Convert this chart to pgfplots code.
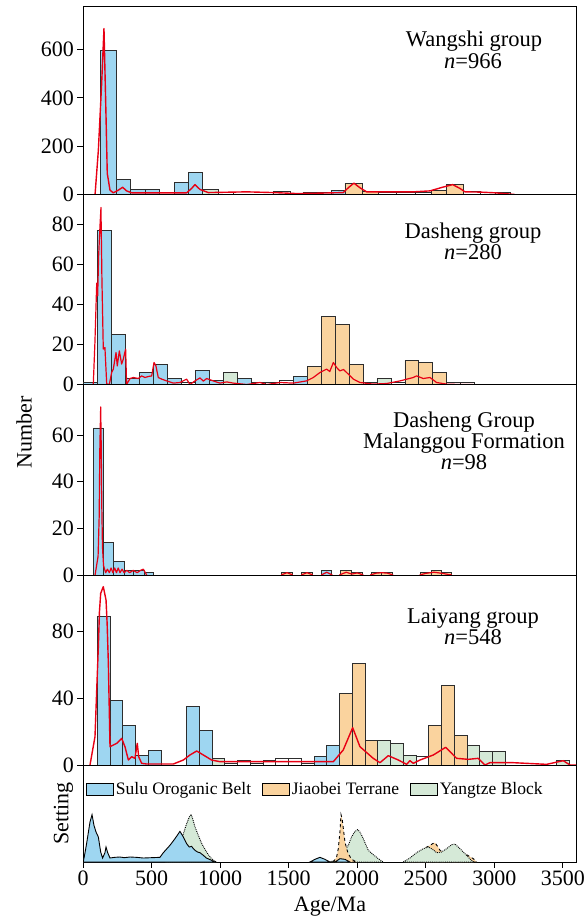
\documentclass[border=0pt]{standalone}
\usepackage{fontspec}
\setmainfont{Liberation Serif}
\usepackage{pgfplots}
\usepackage{pgfplotstable}
\pgfplotsset{compat=1.18}

\definecolor{sulu}{RGB}{158,214,241}
\definecolor{jiao}{RGB}{250,211,158}
\definecolor{yang}{RGB}{213,233,215}
\definecolor{kde}{RGB}{232,0,20}
\definecolor{bedge}{RGB}{45,45,45}

% Wangshi group (bin left edges; B=Sulu, O=Jiaobei, G=Yangtze, W=other)
\pgfplotstableread{
x B O G W
124 596 0 0 0
241 62 0 0 0
343 21 0 0 0
452 21 0 0 0
554 0 0 0 0
666 50 0 0 0
766 90 0 0 0
870 0 0 21 0
987 0 0 0 8
1097 0 0 0 0
1389 0 0 0 12
1510 0 0 0 5
1607 0 0 0 7
1704 0 0 0 10
1814 18 0 0 0
1911 0 47 0 0
2040 0 14 0 0
2154 0 0 0 8
2288 0 0 0 8
2422 0 0 0 8
2543 0 18 0 0
2653 0 43 0 0
2774 0 0 0 11
2896 0 0 0 7
3005 0 0 0 7
3115 0 0 0 0
}\tabA

% Dasheng group
\pgfplotstableread{
x B O G W
2 1 0 0 0
104 77 0 0 0
206 25 0 0 0
308 3 0 0 0
410 6 0 0 0
512 10 0 0 0
614 3 0 0 0
716 0 0 0 1
818 7 0 0 0
920 2 0 0 0
1022 0 0 6 0
1124 3 0 0 0
1226 0 0 0 1
1328 0 0 0 1
1430 0 0 0 2
1532 4 0 0 0
1634 0 9 0 0
1736 0 34 0 0
1838 0 30 0 0
1940 0 10 0 0
2042 0 0 0 1
2144 0 0 3 0
2246 0 0 0 1
2348 0 12 0 0
2450 0 11 0 0
2552 0 6 0 0
2654 0 0 0 1
2756 0 0 0 1
2858 0 0 0 0
}\tabB

% Dasheng Group, Malanggou Formation
\pgfplotstableread{
x B O G W
75 63 0 0 0
148 14 0 0 0
221 6 0 0 0
299 2 0 0 0
367 2 0 0 0
445 1 0 0 0
513 0 0 0 0
1449 0 1 0 0
1527 0 0 0 0
1595 0 1 0 0
1673 0 0 0 0
1741 2 0 0 0
1814 0 0 0 0
1880 0 2 0 0
1960 0 1 0 0
2040 0 0 0 0
2101 0 1 0 0
2179 0 1 0 0
2256 0 0 0 0
2463 0 1 0 0
2543 0 2 0 0
2616 0 1 0 0
2684 0 0 0 0
}\tabC

% Laiyang group
\pgfplotstableread{
x B O G W
104.5 89 0 0 0
197.5 39 0 0 0
290.5 24 0 0 0
383.5 6 0 0 0
476.5 9 0 0 0
569.5 0 0 0 0
662.5 0 0 0 0
755.5 35 0 0 0
848.5 21 0 0 0
941.5 0 0 4 0
1034.5 0 0 0 1
1127.5 0 0 0 3
1220.5 0 0 0 1
1313.5 0 0 0 3
1406.5 0 0 0 4
1499.5 0 0 0 4
1592.5 0 0 0 1
1685.5 5 0 0 0
1778.5 12 0 0 0
1871.5 0 43 0 0
1964.5 0 61 0 0
2057.5 0 15 0 0
2150.5 0 0 15 0
2243.5 0 0 13 0
2336.5 0 0 6 0
2429.5 0 0 0 5
2522.5 0 24 0 0
2615.5 0 48 0 0
2708.5 0 18 0 0
2801.5 0 0 12 0
2894.5 0 0 8 0
2987.5 0 0 8 0
3080.5 0 0 0 0
3173.5 0 0 0 0
3266.5 0 0 0 0
3359.5 0 0 0 0
3452.5 0 0 3 0
3545.5 0 0 0 0
}\tabD

\pgfplotsset{
  panel/.style={scale only axis, width=493pt, xmin=0, xmax=3596, ymin=0,
    axis line style={line width=1pt, black},
    tick align=outside, major tick length=5.5pt,
    tick style={line width=0.8pt, black},
    xtick=\empty, ytick pos=left,
    tick label style={font=\fontsize{22}{22}\selectfont},
    /pgf/number format/assume math mode=true,
    /pgf/number format/1000 sep={},
    anchor=south west},
  bars/.style={ybar interval, draw=bedge, line width=0.8pt, fill=#1},
  kdeline/.style={kde, line width=1.4pt, line join=round, mark=none},
}
\tikzset{ttl/.style={font=\fontsize{22.5}{22.5}\selectfont, anchor=base}}

\begin{document}
\begin{tikzpicture}
\path[use as bounding box] (0pt,0pt) rectangle (587pt,-922pt);

% ---------- Panel 1: Wangshi group ----------
\begin{axis}[panel, at={(83pt,-194.5pt)}, height=188.5pt, ymax=780, ytick={0,200,400,600}]
\addplot[bars=sulu] table[x=x,y=B]{\tabA};
\addplot[bars=jiao] table[x=x,y=O]{\tabA};
\addplot[bars=yang] table[x=x,y=G]{\tabA};
\addplot[bars=white] table[x=x,y=W]{\tabA};
\addplot[kdeline] coordinates {
(88,0) (112,183) (136,459) (153,687) (168,321) (177,87) (197,18) (221,7) (258,18) (289,30) (318,15) (355,7)
(756,7) (792,25) (817,41) (853,21) (914,8) (1194,11) (1388,8) (1558,4) (1680,5) (1899,8) (1935,28) (1976,47)
(2020,28) (2069,11) (2409,11) (2531,15) (2616,29) (2696,41) (2750,25) (2786,11) (2895,10) (3005,7) (3090,3) (3150,0)};
\end{axis}

% ---------- Panel 2: Dasheng group ----------
\begin{axis}[panel, at={(83pt,-384.5pt)}, height=190pt, ymax=95, ytick={0,20,40,60,80}]
\addplot[bars=sulu] table[x=x,y=B]{\tabB};
\addplot[bars=jiao] table[x=x,y=O]{\tabB};
\addplot[bars=yang] table[x=x,y=G]{\tabB};
\addplot[bars=white] table[x=x,y=W]{\tabB};
\addplot[kdeline, line width=1.2pt] coordinates {
(75,0) (87,21) (100,50.7) (107,44.3) (114,64.3) (124,79.3) (131,88.5) (138,52.7) (148,17.7) (160,18.5) (173,0.2)
(192,0) (209,6) (221,7.7) (241,16) (250,9.3) (265,16.8) (282,10.2) (294,12.7) (311,17.7) (318,0) (343,3)
(367,3.5) (403,3) (428,4.3) (452,3.5) (476,4) (501,4.3) (518,11) (532,9.3) (549,3.5) (574,2.7) (610,1.8)
(659,0.7) (707,1) (756,2.7) (780,0) (817,1.8) (853,3.3) (878,1.7) (902,3) (950,1.8) (999,0.7) (1048,1.3)
(1096,0.7) (1194,0) (1291,1) (1339,0) (1437,1) (1534,0.7) (1631,1.8) (1680,3.5) (1728,6) (1777,7.7)
(1800,6.5) (1826,11) (1850,8.5) (1874,6.8) (1900,7.5) (1923,6) (1972,2.7) (2020,1) (2117,0.2) (2215,0.5)
(2312,1.8) (2409,3.5) (2433,4.3) (2482,3) (2531,3.5) (2579,1) (2652,0.2) (2750,0) (2847,0)};
\end{axis}

% ---------- Panel 3: Dasheng Group, Malanggou Formation ----------
\begin{axis}[panel, at={(83pt,-575pt)}, height=190.5pt, ymax=81.6, ytick={0,20,40,60},
  unbounded coords=jump]
\addplot[bars=sulu] table[x=x,y=B]{\tabC};
\addplot[bars=jiao] table[x=x,y=O]{\tabC};
\addplot[bars=yang] table[x=x,y=G]{\tabC};
\addplot[bars=white] table[x=x,y=W]{\tabC};
\addplot[kdeline, line width=1.2pt] coordinates {
(88,0) (110,8) (118,25) (123,55) (129,72) (133,55) (137,30) (142,12) (150,4) (165,1) (178,2.5) (192,1)
(205,3) (218,1) (231,3) (244,1) (257,3) (270,1) (285,2.5) (300,1) (320,2) (340,1) (367,2) (395,1)
(420,2) (440,2.5) (455,1) (464,0)
(1000,nan)
(1445,0) (1488,1) (1530,0) (1560,nan) (1592,0) (1634,1) (1676,0) (1700,nan) (1738,0) (1778,1.2) (1818,0)
(1840,nan) (1870,0) (1920,1.2) (1960,0.4) (2000,0.9) (2045,0) (2070,nan) (2095,0) (2140,0.8) (2180,1)
(2220,0.8) (2262,0) (2350,nan) (2455,0) (2500,0.7) (2560,1.2) (2620,0.7) (2690,0)};
\end{axis}

% ---------- Panel 4: Laiyang group ----------
\begin{axis}[panel, at={(83pt,-765pt)}, height=190pt, ymax=114, ytick={0,40,80}]
\addplot[bars=sulu] table[x=x,y=B]{\tabD};
\addplot[bars=jiao] table[x=x,y=O]{\tabD};
\addplot[bars=yang] table[x=x,y=G]{\tabD};
\addplot[bars=white] table[x=x,y=W]{\tabD};
\addplot[kdeline] coordinates {
(51,0) (87.5,17) (100,45) (112,71) (120,92) (129,103) (148,107) (168,99) (176,85) (185,61) (197,11) (246,13)
(282,16) (306,11) (331,3) (355,5) (379,4) (396,13) (406,5) (428,1) (464,0.6) (659,0.6) (732,3) (780,6)
(829,8.4) (878,6) (938,3) (999,2) (1826,2) (1898,9) (1967,22.4) (2020,11) (2117,4) (2166,1.4) (2227,5.6)
(2300,3) (2360,0.4) (2385,2.6) (2409,1) (2458,3) (2555,6) (2645,10.6) (2725,4) (2810,3.4) (2883,4)
(2932,0) (2968,1.4) (3138,1.4) (3382,0.4) (3503,2.6) (3552,0) (3600,0)};
\end{axis}

% ---------- Panel 5: Setting ----------
\begin{axis}[panel, at={(83pt,-862pt)}, height=97pt, ymax=291, ytick=\empty,
  xtick={0,500,1000,1500,2000,2500,3000,3500}, xtick pos=bottom,
  legend columns=3,
  legend image code/.code={\draw[#1, draw=black, solid, line width=0.8pt] (0pt,-6pt) rectangle (27pt,6pt);},
  legend style={at={(axis description cs:0,1)}, anchor=north west, xshift=3pt, yshift=-15pt,
    draw=none, fill=none, inner sep=0pt,
    font=\fontsize{17.5}{17.5}\selectfont,
    /tikz/every even column/.append style={column sep=9pt}}]
\addlegendimage{fill=sulu}
\addlegendentry{Sulu Oroganic Belt}
\addlegendimage{fill=jiao}
\addlegendentry{Jiaobei Terrane}
\addlegendimage{fill=yang}
\addlegendentry{Yangtze Block}
% Yangtze (behind)
\addplot[fill=yang, draw=black, densely dotted, line width=0.9pt, forget plot] coordinates {
(600,0) (680,20) (707,50) (732,85) (756,115) (775,135) (788,143) (800,130) (817,105) (841,80) (866,55)
(890,38) (914,22) (938,10) (963,2) (975,0)} \closedcycle;
\addplot[fill=yang, draw=black, densely dotted, line width=0.9pt, forget plot] coordinates {
(1800,0) (1838,5) (1874,15) (1911,35) (1935,50) (1959,75) (1980,90) (2003,97) (2020,90) (2044,70)
(2065,50) (2081,35) (2117,22) (2154,10) (2190,0)} \closedcycle;
% Jiaobei
\addplot[fill=jiao, draw=black, dashed, line width=0.9pt, forget plot] coordinates {
(1826,0) (1850,15) (1862,40) (1874,90) (1882,142) (1890,130) (1899,100) (1911,60) (1923,40) (1935,25)
(1959,8) (1996,0)} \closedcycle;
\addplot[fill=jiao, draw=black, dashed, line width=0.9pt, forget plot] coordinates {
(2360,0) (2409,15) (2458,30) (2494,42) (2531,50) (2550,55) (2567,58) (2590,45) (2604,35) (2640,25)
(2701,22) (2750,28) (2798,22) (2847,10) (2871,0)} \closedcycle;
\addplot[fill=yang, draw=black, densely dotted, line width=0.9pt, forget plot] coordinates {
(2336,0) (2385,12) (2433,28) (2482,40) (2520,45) (2550,38) (2580,28) (2615,30) (2652,40) (2690,52)
(2713,54) (2750,40) (2798,20) (2830,6) (2850,0)} \closedcycle;
% Sulu
\addplot[fill=sulu, draw=black, line width=0.9pt, forget plot] coordinates {
(2,0) (20,40) (32,70) (51,120) (66,142) (80,110) (95,90) (112,75) (129,30) (143,12) (160,28) (168,45)
(180,28) (197,12) (230,14) (270,15) (300,13) (343,15) (391,14) (440,12) (500,13) (561,14) (586,28)
(634,50) (671,70) (707,92) (732,75) (756,55) (775,45) (792,47) (805,40) (817,35) (835,30) (853,28)
(878,20) (900,12) (938,5) (963,0)} \closedcycle;
\addplot[fill=sulu, draw=black, line width=0.9pt, forget plot] coordinates {
(1655,0) (1692,8) (1728,14) (1765,8) (1801,0)} \closedcycle;
\addplot[fill=sulu, draw=black, line width=0.9pt, forget plot] coordinates {
(1838,0) (1874,10) (1911,8) (1947,0)} \closedcycle;
\end{axis}

% ---------- titles and labels ----------
\node[ttl] at (474pt,-46.7pt) {Wangshi group};
\node[ttl] at (473pt,-68.3pt) {\textit{n}=966};
\node[ttl] at (473pt,-238pt) {Dasheng group};
\node[ttl] at (473pt,-259.5pt) {\textit{n}=280};
\node[ttl] at (464pt,-427.7pt) {Dasheng Group};
\node[ttl] at (464pt,-448.3pt) {Malanggou Formation};
\node[ttl] at (464pt,-469pt) {\textit{n}=98};
\node[ttl] at (473pt,-623.3pt) {Laiyang group};
\node[ttl] at (473pt,-644pt) {\textit{n}=548};

\node[font=\fontsize{22}{22}\selectfont, rotate=90] at (24pt,-432pt) {Number};
\node[font=\fontsize{22}{22}\selectfont, rotate=90] at (63.5pt,-813.5pt) {Setting};
\node[font=\fontsize{22}{22}\selectfont, anchor=base] at (330pt,-911pt) {Age/Ma};
\end{tikzpicture}
\end{document}
